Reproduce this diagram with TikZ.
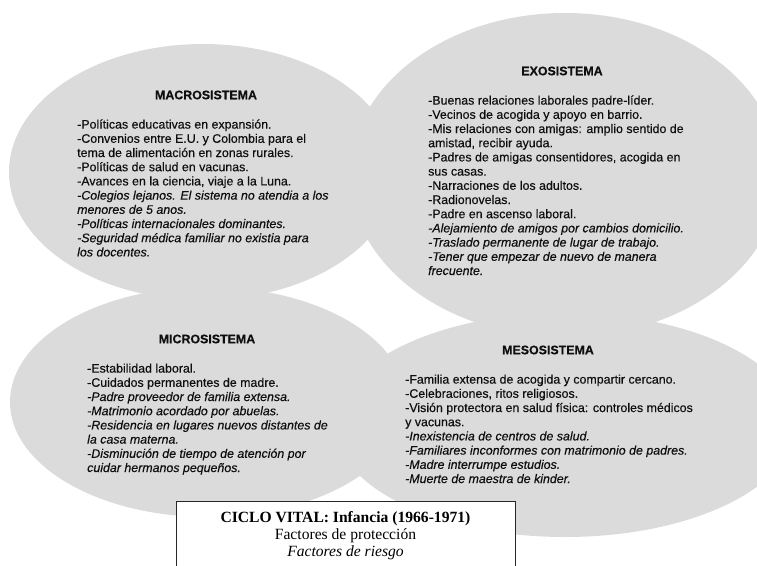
\documentclass[tikz,border=0pt]{standalone}
\usepackage{fontspec}
\setmainfont{Liberation Serif}
\newfontfamily\arialfont[FakeBold=0.35]{Liberation Sans}
\usetikzlibrary{shapes.geometric}
\definecolor{bubblegray}{RGB}{219,219,219}
\definecolor{inkgray}{RGB}{15,15,15}
\begin{document}
\begin{tikzpicture}[x=1pt,y=-1pt,
  bubble/.style={ellipse, fill=bubblegray, draw=none, inner sep=0pt},
  heading/.style={font=\arialfont\bfseries\fontsize{12.4}{14.2}\selectfont, text=inkgray, inner sep=0pt},
  itemlist/.style={font=\arialfont\fontsize{12.4}{14.2}\selectfont, text=inkgray, align=left, anchor=north west, inner sep=0pt},
  titlebox/.style={draw=black!85, line width=1.2pt, fill=white, anchor=north west, inner sep=0pt},
  titletext/.style={font=\fontsize{15.6}{17}\selectfont, align=center, inner sep=0pt}]
\useasboundingbox (0,0) rectangle (757,565);

% the four system bubbles
\node[bubble, minimum width=388pt, minimum height=256pt] (macro) at (203,172) {};
\node[bubble, minimum width=430pt, minimum height=324pt] (exo) at (565,175) {};
\node[bubble, minimum width=396pt, minimum height=230pt] (micro) at (208,402) {};
\node[bubble, minimum width=460pt, minimum height=224pt] (meso) at (565,425) {};

% headings
\node[heading] (macrohead) at (206,95) {MACROSISTEMA};
\node[heading] (exohead) at (562,71) {EXOSISTEMA};
\node[heading] (microhead) at (207,339) {MICROSISTEMA};
\node[heading] (mesohead) at (548,350) {MESOSISTEMA};

% factor lists
\node[itemlist] (macrolist) at (77,116.4) {\rule{0pt}{12pt}-Políticas educativas en expansión.\\
-Convenios entre E.U. y Colombia para el\\
tema de alimentación en zonas rurales.\\
-Políticas de salud en vacunas.\\
-Avances en la ciencia, viaje a la Luna.\\
\textit{-Colegios lejanos. El sistema no atendia a los}\\
\textit{menores de 5 anos.}\\
\textit{-Políticas internacionales dominantes.}\\
\textit{-Seguridad médica familiar no existia para}\\
\textit{los docentes.}};

\node[itemlist] (exolist) at (428,92.4) {\rule{0pt}{12pt}-Buenas relaciones laborales padre-líder.\\
-Vecinos de acogida y apoyo en barrio.\\
-Mis relaciones con amigas: amplio sentido de\\
amistad, recibir ayuda.\\
-Padres de amigas consentidores, acogida en\\
sus casas.\\
-Narraciones de los adultos.\\
-Radionovelas.\\
-Padre en ascenso laboral.\\
\textit{-Alejamiento de amigos por cambios domicilio.}\\
\textit{-Traslado permanente de lugar de trabajo.}\\
\textit{-Tener que empezar de nuevo de manera}\\
\textit{frecuente.}};

\node[itemlist] (microlist) at (87,360.4) {\rule{0pt}{12pt}-Estabilidad laboral.\\
-Cuidados permanentes de madre.\\
\textit{-Padre proveedor de familia extensa.}\\
\textit{-Matrimonio acordado por abuelas.}\\
\textit{-Residencia en lugares nuevos distantes de}\\
\textit{la casa materna.}\\
\textit{-Disminución de tiempo de atención por}\\
\textit{cuidar hermanos pequeños.}};

\node[itemlist] (mesolist) at (405,371.4) {\rule{0pt}{12pt}-Familia extensa de acogida y compartir cercano.\\
-Celebraciones, ritos religiosos.\\
-Visión protectora en salud física: controles médicos\\
y vacunas.\\
\textit{-Inexistencia de centros de salud.}\\
\textit{-Familiares inconformes con matrimonio de padres.}\\
\textit{-Madre interrumpe estudios.}\\
\textit{-Muerte de maestra de kinder.}};

% life-cycle caption box
\node[titlebox, minimum width=339pt, minimum height=90pt] (cycle) at (176,501) {};
\node[titletext] (cycletitle) at (345.5,535.5) {\textbf{CICLO VITAL: Infancia (1966-1971)}\\
Factores de protección\\
\textit{Factores de riesgo}};
\end{tikzpicture}
\end{document}
